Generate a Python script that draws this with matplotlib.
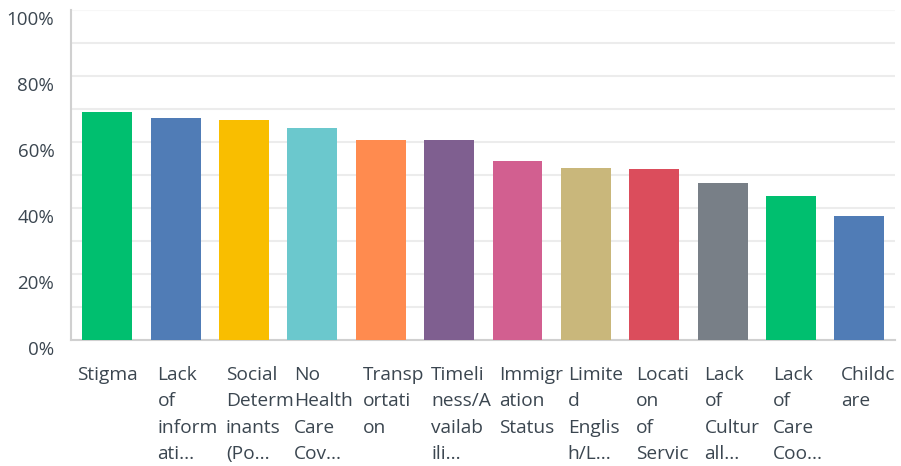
import matplotlib
matplotlib.use("Agg")
import matplotlib.pyplot as plt
import matplotlib.transforms as mtransforms

categories = ["Stigma", "Lack\nof\ninform\nati...", "Social\nDeterm\ninants\n(Po...",
              "No\nHealth\nCare\nCov...", "Transp\nortati\non", "Timeli\nness/A\nvailab\nili...",
              "Immigr\nation\nStatus", "Limite\nd\nEnglis\nh/L...", "Locati\non\nof\nServic",
              "Lack\nof\nCultur\nall...", "Lack\nof\nCare\nCoo...", "Childc\nare"]
values = [69.1, 67.3, 66.7, 64.2, 60.6, 60.6, 54.2, 52.1, 51.8, 47.6, 43.6, 37.6]
colors = ["#00bf6f", "#507cb6", "#f9be00", "#6bc8cd", "#ff8b4f", "#7f5f90",
          "#d25f90", "#c9b77b", "#db4d5c", "#787f87", "#00bf6f", "#507cb6"]
yticks = [0, 20, 40, 60, 80, 100]
ytick_labels = ["0%", "20%", "40%", "60%", "80%", "100%"]

plt.rcParams['font.family'] = ['Open Sans', 'DejaVu Sans']
fig = plt.figure(figsize=(9.01, 4.66), dpi=100)
ax = fig.add_axes([71/901, 126/466, (895-71)/901, 330/466])

x = list(range(len(categories)))
ax.bar(x, values, width=0.73, color=colors, zorder=3)
ax.set_xlim(-0.53, len(categories) - 0.48)
ax.set_ylim(0, 100)

for g in range(10, 101, 10):
    ax.axhline(g, color="#ececec" if g < 100 else "#f7f7f7", lw=1.5, zorder=1)

for s in ["top", "right"]:
    ax.spines[s].set_visible(False)
ax.spines["left"].set_color("#d0d0d0")
ax.spines["bottom"].set_color("#d0d0d0")
ax.spines["left"].set_linewidth(1.5)
ax.spines["bottom"].set_linewidth(1.5)

ax.set_yticks(yticks)
ax.set_yticklabels(ytick_labels, fontsize=13.5, color="#3b4650")
ax.tick_params(axis="y", length=0, pad=12)
offset = mtransforms.ScaledTranslation(0, -8/100, fig.dpi_scale_trans)
for lab in ax.get_yticklabels():
    lab.set_transform(lab.get_transform() + offset)

ax.set_xticks([])
trans = mtransforms.blended_transform_factory(ax.transData, ax.transAxes)
for i, lab in enumerate(categories):
    if "\n" in lab:
        ax.text(i - 0.265, -0.078, lab, transform=trans, ha="left", va="top",
                fontsize=13.8, color="#3b4650", linespacing=1.6)
    else:
        ax.text(i, -0.078, lab, transform=trans, ha="center", va="top",
                fontsize=13.8, color="#3b4650", linespacing=1.6)

fig.savefig("out.png", dpi=100)
